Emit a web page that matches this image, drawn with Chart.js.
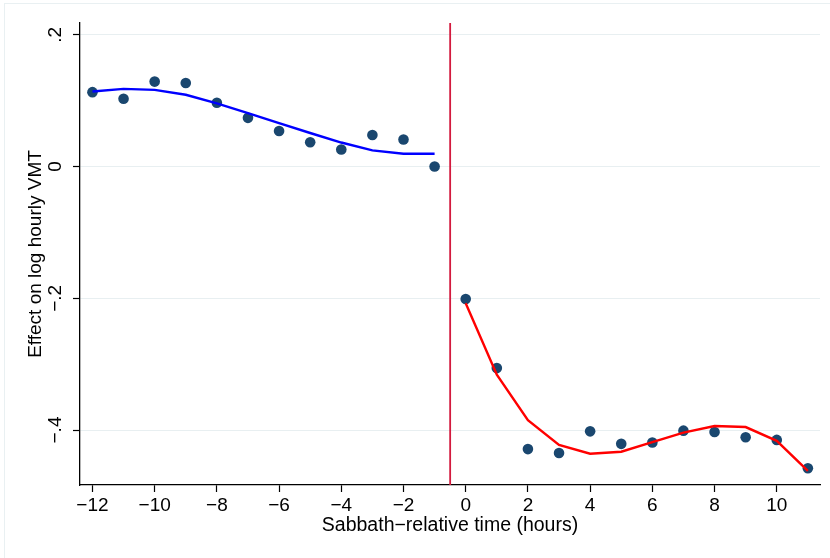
<!DOCTYPE html>
<html>
<head>
<meta charset="utf-8">
<script src="https://cdn.jsdelivr.net/npm/chart.js@4.4.1/dist/chart.umd.min.js"></script>
<style>
    html, body { margin: 0; padding: 0; background: #fff; }
    #wrap { width: 830px; height: 558px; position: relative; }
</style>
</head>
<body>
<div id="wrap"><canvas id="vmtChart"></canvas></div>
<script>
// hours relative to Sabbath start
const hoursBefore = [-12, -11, -10, -9, -8, -7, -6, -5, -4, -3, -2, -1];
const hoursAfter = [0, 1, 2, 3, 4, 5, 6, 7, 8, 9, 10, 11];

// point estimates
const estBefore = [0.113, 0.103, 0.129, 0.127, 0.097, 0.074, 0.054, 0.037, 0.026, 0.048, 0.041, 0.000];
const estAfter = [-0.201, -0.306, -0.429, -0.435, -0.402, -0.421, -0.419, -0.401, -0.403, -0.411, -0.415, -0.458];

// smoothed fit on each side
const fitBefore = [0.114, 0.118, 0.1165, 0.109, 0.096, 0.081, 0.066, 0.051, 0.0365, 0.0245, 0.0195, 0.0195];
const fitAfter = [-0.2075, -0.316, -0.385, -0.4225, -0.436, -0.433, -0.4185, -0.404, -0.394, -0.3955, -0.4165, -0.462];

const sabbathStart = -0.5;

const xTicks = [-12, -10, -8, -6, -4, -2, 0, 2, 4, 6, 8, 10];
const xTickLabels = ['\u221212', '\u221210', '\u22128', '\u22126', '\u22124', '\u22122', '0', '2', '4', '6', '8', '10'];
const yTicks = [-0.4, -0.2, 0, 0.2];
const yTickLabels = ['\u2212.4', '\u2212.2', '0', '.2'];

const xRange = [-12.4, 11.39];
const yRange = [-0.4835, 0.218];

const toPoints = (xs, ys) => xs.map((x, i) => ({ x: x, y: ys[i] }));

const fontFamily = "'Liberation Sans', Arial, sans-serif";

// light frame around the whole graph region
const frame = {
    id: 'frame',
    beforeDraw(chart) {
        const ctx = chart.ctx;
        ctx.save();
        ctx.fillStyle = '#fff';
        ctx.fillRect(0, 0, chart.width, chart.height);
        ctx.strokeStyle = '#e9f0f2';
        ctx.lineWidth = 1;
        ctx.strokeRect(4.5, 3.5, chart.width + 20, chart.height + 20);
        ctx.restore();
    }
};

new Chart(document.getElementById('vmtChart'), {
    type: 'scatter',
    data: {
        datasets: [
            {
                type: 'line',
                data: toPoints(hoursBefore, fitBefore),
                borderColor: '#0000ff',
                borderWidth: 2.4,
                pointRadius: 0,
                tension: 0
            },
            {
                type: 'line',
                data: toPoints(hoursAfter, fitAfter),
                borderColor: '#ff0000',
                borderWidth: 2.4,
                pointRadius: 0,
                tension: 0
            },
            {
                data: toPoints(hoursBefore, estBefore).concat(toPoints(hoursAfter, estAfter)),
                backgroundColor: '#1a476f',
                borderWidth: 0,
                pointRadius: 5.3
            },
            {
                type: 'line',
                data: [{ x: sabbathStart, y: yRange[0] }, { x: sabbathStart, y: yRange[1] }],
                borderColor: '#d31a3e',
                borderWidth: 1.8,
                pointRadius: 0
            }
        ]
    },
    options: {
        responsive: true,
        maintainAspectRatio: false,
        animation: false,
        events: [],
        layout: {
            padding: { left: 0, top: 23, right: 10, bottom: 0 }
        },
        plugins: {
            legend: { display: false },
            tooltip: { enabled: false }
        },
        scales: {
            x: {
                type: 'linear',
                min: xRange[0],
                max: xRange[1],
                afterBuildTicks: (scale) => {
                    scale.ticks = xTicks.map(v => ({ value: v }));
                },
                afterFit: (scale) => {
                    scale.height = 73;
                },
                grid: {
                    drawOnChartArea: false,
                    drawTicks: true,
                    tickLength: 7,
                    tickColor: '#000',
                    tickWidth: 1.2
                },
                border: { display: true, color: '#000', width: 1.3 },
                ticks: {
                    autoSkip: false,
                    maxRotation: 0,
                    padding: 2,
                    color: '#000',
                    font: { size: 19, family: fontFamily },
                    callback: (value) => xTickLabels[xTicks.indexOf(value)]
                },
                title: {
                    display: true,
                    text: 'Sabbath\u2212relative time (hours)',
                    color: '#000',
                    font: { size: 19.5, family: fontFamily },
                    padding: { top: 0, bottom: 21 }
                }
            },
            y: {
                type: 'linear',
                min: yRange[0],
                max: yRange[1],
                afterBuildTicks: (scale) => {
                    scale.ticks = yTicks.map(v => ({ value: v }));
                },
                afterFit: (scale) => {
                    scale.width = 80;
                },
                grid: {
                    color: '#e8eff1',
                    lineWidth: 1,
                    drawTicks: true,
                    tickLength: 7,
                    tickColor: '#000',
                    tickWidth: 1.2
                },
                border: { display: true, color: '#000', width: 1.3 },
                ticks: {
                    autoSkip: false,
                    minRotation: 90,
                    maxRotation: 90,
                    crossAlign: 'center',
                    padding: 4,
                    color: '#000',
                    font: { size: 19, family: fontFamily },
                    callback: (value) => yTickLabels[yTicks.indexOf(value)]
                },
                title: {
                    display: true,
                    text: 'Effect on log hourly VMT',
                    color: '#000',
                    font: { size: 19, family: fontFamily },
                    padding: { top: 24, bottom: 0 }
                }
            }
        }
    },
    plugins: [frame]
});
</script>
</body>
</html>
